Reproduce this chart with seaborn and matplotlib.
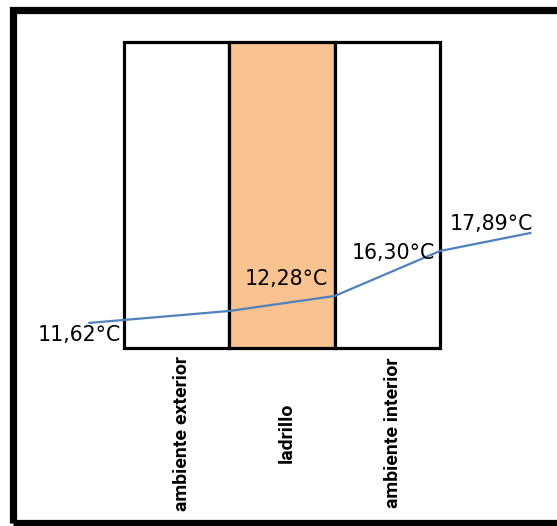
import matplotlib
matplotlib.use("Agg")
from matplotlib import pyplot as plt
from matplotlib.patches import Rectangle
import seaborn as sns

# capas del muro
capas = ["ambiente exterior", "ladrillo", "ambiente interior"]
altura_capa = [100, 100, 100]
colores_capa = ["#ffffff", "#f8c291", "#ffffff"]

# perfil de temperatura (posicion horizontal en capas, altura relativa)
perfil_x = [-0.83, 0.5, 1.5, 2.5, 3.36]
perfil_y = [8.2, 12.1, 17.0, 31.7, 37.6]
etiquetas_temp = ["11,62°C", "", "12,28°C", "16,30°C", "17,89°C"]

sns.set_theme(style="white")

fig = plt.figure(figsize=(5.57, 5.26), dpi=100)
ax = fig.add_axes([0, 0, 1, 1])

sns.barplot(x=capas, y=altura_capa, hue=capas, palette=colores_capa, legend=False,
            width=1, edgecolor="black", linewidth=2.3, saturation=1, ax=ax)
sns.lineplot(x=perfil_x, y=perfil_y, color="#4f81bd", linewidth=1.6, ax=ax)

ax.set_xlim(-1.677, 3.611)
ax.set_ylim(-58.17, 113.73)
ax.axis("off")

# etiquetas de temperatura junto a los puntos
desplaz = [(32, -12), None, (-7, 17), (-5, -2), (3, 9)]
for x, y, txt, d in zip(perfil_x, perfil_y, etiquetas_temp, desplaz):
    if txt:
        ax.annotate(txt, xy=(x, y), xytext=d, textcoords="offset pixels",
                    ha="right", va="center", fontsize=14.8,
                    family="DejaVu Sans", color="black")

# nombres de las capas, verticales debajo del muro
for i, nombre in enumerate(capas):
    ax.text(i + 0.05, -27.8, nombre, rotation=90, ha="center", va="center",
            fontsize=14, fontweight="bold",
            family=["Roboto", "DejaVu Sans"], color="black")

# marco negro
fig.patches.append(Rectangle((13 / 557, 3 / 526), 1.2, 513 / 526,
                             transform=fig.transFigure, fill=False,
                             edgecolor="black", linewidth=5.2, figure=fig))

plt.savefig("out.png", dpi=100)
